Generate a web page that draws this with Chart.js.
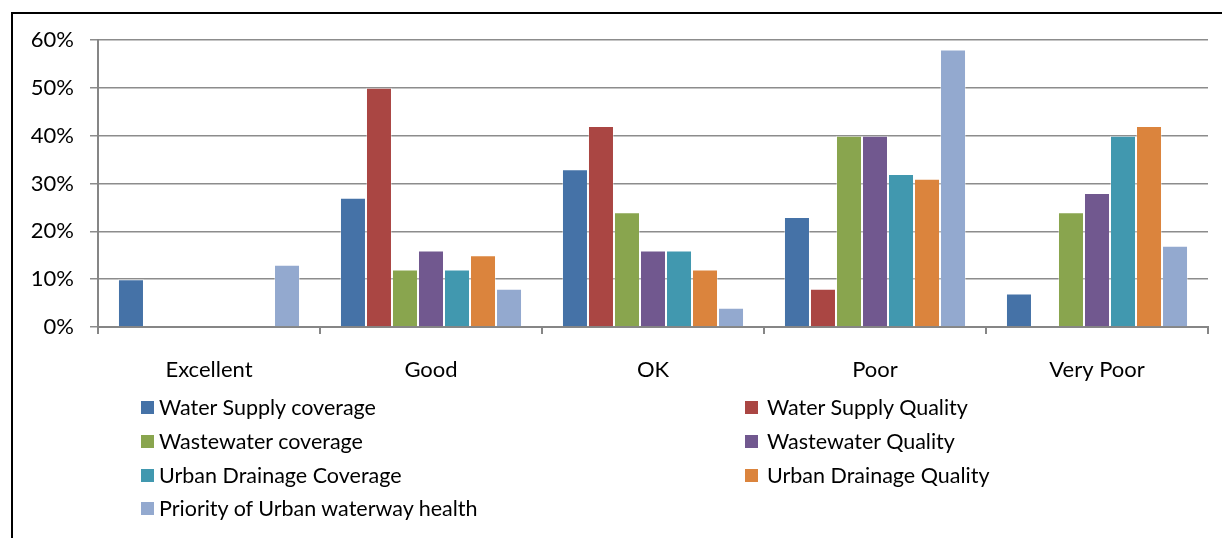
<!DOCTYPE html>
<html>
<head>
<meta charset="utf-8">
<script src="https://cdn.jsdelivr.net/npm/chart.js@4/dist/chart.umd.min.js"></script>
<style>
  html, body { margin: 0; padding: 0; background: #fff; }
  body { width: 1222px; height: 538px; position: relative; overflow: hidden; font-family: Lato, sans-serif; }
  #frame { position: absolute; left: 11px; top: 12px; width: 1230px; height: 600px; border: 2px solid #000; box-sizing: border-box; }
  #wrap { position: absolute; left: 0; top: 0; width: 1222px; height: 538px; }
  .lg { position: absolute; height: 34px; line-height: 34px; font-size: 21.5px; color: #000; white-space: nowrap; }
  .lg i { position: absolute; width: 13px; height: 13px; top: 11px; left: 0; }
  .lg span { position: absolute; top: 0; }
</style>
</head>
<body>
<div id="frame"></div>
<div id="wrap"><canvas id="c" width="1222" height="538"></canvas></div>
<div id="legend"></div>
<script>
const categories = ["Excellent", "Good", "OK", "Poor", "Very Poor"];
const seriesNames = [
  "Water Supply coverage",
  "Water Supply Quality",
  "Wastewater coverage",
  "Wastewater Quality",
  "Urban Drainage Coverage",
  "Urban Drainage Quality",
  "Priority of Urban waterway health"
];
const waterSupplyCoverage   = [10, 27, 33, 23, 7];
const waterSupplyQuality    = [0, 50, 42, 8, 0];
const wastewaterCoverage    = [0, 12, 24, 40, 24];
const wastewaterQuality     = [0, 16, 16, 40, 28];
const urbanDrainageCoverage = [0, 12, 16, 32, 40];
const urbanDrainageQuality  = [0, 15, 12, 31, 42];
const priorityUrbanWaterway = [13, 8, 4, 58, 17];
const yTicks = [0, 10, 20, 30, 40, 50, 60];

const colors = ["#4572A7", "#AA4643", "#89A54E", "#71588F", "#4198AF", "#DB843D", "#93A9CF"];
const seriesValues = [waterSupplyCoverage, waterSupplyQuality, wastewaterCoverage, wastewaterQuality,
                      urbanDrainageCoverage, urbanDrainageQuality, priorityUrbanWaterway];

const datasets = seriesNames.map((name, i) => ({
  label: name,
  data: seriesValues[i],
  backgroundColor: colors[i],
  borderColor: "rgba(255,255,255,0.35)",
  borderWidth: 1,
  borderSkipped: "bottom",
  categoryPercentage: 0.82,
  barPercentage: 1.0
}));

const FONT = { family: "Lato, sans-serif", size: 22 };

new Chart(document.getElementById("c"), {
  type: "bar",
  data: { labels: categories, datasets },
  options: {
    responsive: false,
    animation: false,
    layout: { padding: { left: 0, right: 14, top: 40, bottom: 0 } },
    plugins: { legend: { display: false }, tooltip: { enabled: false } },
    scales: {
      x: {
        offset: true,
        grid: { display: true, drawOnChartArea: false, drawTicks: true, tickLength: 7, color: "#868686", lineWidth: 2, offset: true },
        border: { display: true, color: "#868686", width: 2 },
        ticks: { color: "#000", font: FONT, padding: 23, maxRotation: 0 },
        afterFit: s => { s.height = 538 - 327; }
      },
      y: {
        min: 0, max: 60,
        afterBuildTicks: s => { s.ticks = yTicks.map(v => ({ value: v })); },
        grid: { color: "#8c8c8c", lineWidth: 1.5, tickLength: 8, drawTicks: true },
        border: { display: true, color: "#868686", width: 2 },
        ticks: { color: "#000", font: FONT, padding: 16, callback: v => v + "%" },
        afterFit: s => { s.width = 98; }
      }
    }
  }
});

// HTML legend built from the datasets (two columns, row-major)
const legend = document.getElementById("legend");
const colX = [141, 745];
const textGap = [18, 22];
const rowY = [390, 424, 458, 491];
seriesNames.forEach((name, i) => {
  const col = i % 2, row = Math.floor(i / 2);
  const d = document.createElement("div");
  d.className = "lg";
  d.style.left = colX[col] + "px";
  d.style.top = rowY[row] + "px";
  d.innerHTML = '<i style="background:' + colors[i] + '"></i><span style="left:' + textGap[col] + 'px">' + name + '</span>';
  legend.appendChild(d);
});
</script>
</body>
</html>
